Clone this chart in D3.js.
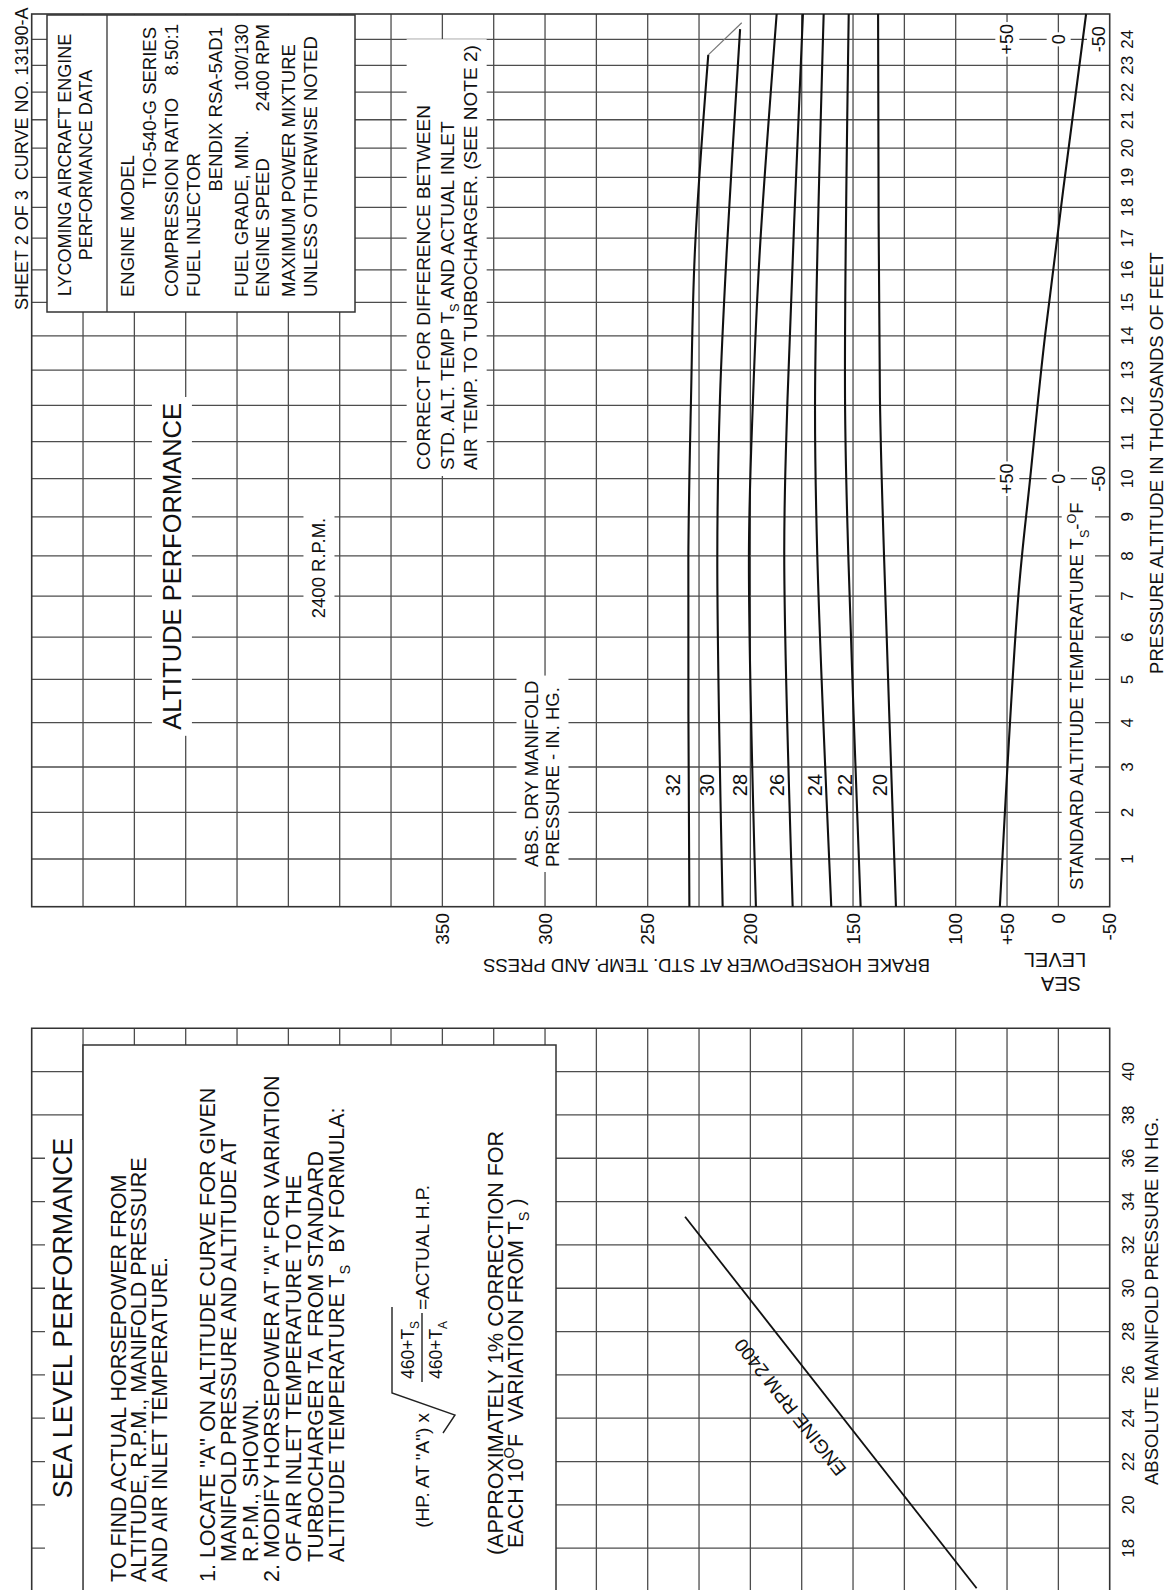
<!DOCTYPE html>
<html>
<head>
<meta charset="utf-8">
<title>Lycoming TIO-540-G Altitude Performance</title>
<script src="https://cdn.jsdelivr.net/npm/d3@7/dist/d3.min.js"></script>
<style>
  html, body { margin: 0; padding: 0; background: #ffffff; }
  svg { display: block; }
  text { font-family: "Liberation Sans", Arial, Helvetica, sans-serif; fill: #111; white-space: pre; }
</style>
</head>
<body>
<svg id="chart" width="1170" height="1590" viewBox="0 0 1170 1590"></svg>
<script>
// ===================== DATA =====================
const altitudeTicks = [1,2,3,4,5,6,7,8,9,10,11,12,13,14,15,16,17,18,19,20,21,22,23,24];
const hpTicks = [350, 300, 250, 200, 150, 100];
const hpTickLabels = ["350", "300", "250", "200", "150", "100"];
const tempTicks = [50, 0, -50];
const tempTickLabels = ["+50", "0", "-50"];
const tempLabelAltitudes = [24, 10];
const mpTicks = [18, 20, 22, 24, 26, 28, 30, 32, 34, 36, 38, 40];
const hpGrid = [525,500,475,450,425,400,375,350,325,300,275,250,225,200,175,150,125,100,75,50];

// Altitude performance curves: [altitude (1000 ft), brake horsepower]
const curveNames = ["32", "30", "28", "26", "24", "22", "20"];
const mp32 = [[0,229.7],[8,230.2],[12.2,228.9],[16.6,227.0],[23.4,220.5]];
const mp30 = [[0,213.5],[8,216.1],[12.2,214.8],[16.6,211.5],[24.4,205.0]];
const mp28 = [[0,197.3],[8,200.7],[12.2,198.7],[16.6,195.4],[25,187.2]];
const mp26 = [[0,179.4],[8,183.5],[12.2,181.9],[25,174.4]];
const mp24 = [[0,160.6],[8,167.4],[12.2,168.5],[25,164.3]];
const mp22 = [[0,146.3],[8,152.3],[12.2,153.9],[25,152.1]];
const mp20 = [[0,129.1],[8,134.9],[12.2,136.9],[25,137.8]];
const criticalAlt32 = [[23.4,220.5],[24.65,204.2]];
// Standard altitude temperature line: [altitude (1000 ft), deg F]
const standardTemp = [[0,57],[7,39],[10,27.5],[14,13],[25,-27]];
// Sea level performance, 2400 RPM: [manifold pressure in. Hg, brake horsepower]
const seaLevel2400 = [[33.3,231.8],[16.15,89.8]];

// ===================== SCALES =====================
const hpScale = d3.scaleLinear().domain([550, 25]).range([31.7, 1109.7]);
const altTransform = a => Math.pow(1 - 0.0068756 * a, 4.5);
const altPix = d3.scaleLinear().domain([altTransform(0), altTransform(25)]).range([906.7, 14]);
const altScale = a => altPix(altTransform(a));
const tempScale = d3.scaleLinear().domain([50, -50]).range([hpScale(75), hpScale(25)]);
const mpScale = d3.scaleLinear().domain([42, 16]).range([1028.3, 1591.5]);

const X0 = hpScale(550), X1 = hpScale(25);
const YT = altScale(25), YB = altScale(0);
const YS = mpScale(42);

const svg = d3.select('#chart');
svg.append('rect').attr('width', 1170).attr('height', 1590).attr('fill', '#fff');

// ===================== HELPERS =====================
function addSegs(t, segs, size) {
  if (!Array.isArray(segs)) segs = [segs];
  let shift = 0;
  segs.forEach(s => {
    if (typeof s === 'string') s = { t: s };
    const target = s.sub ? 0.3 * size : (s.sup ? -0.42 * size : 0);
    const ts = t.append('tspan').text(s.t);
    if (target !== shift) ts.attr('dy', (target - shift).toFixed(2));
    if (s.sub || s.sup) ts.attr('font-size', (size * 0.68).toFixed(1));
    shift = target;
  });
  return t;
}
function addBg(g, pad) {
  const b = g.node().getBBox();
  g.insert('rect', ':first-child')
    .attr('x', b.x - pad).attr('y', b.y - pad)
    .attr('width', b.width + 2 * pad).attr('height', b.height + 2 * pad)
    .attr('fill', '#fff');
}
// block of text rotated -90deg, lines given in screen coordinates
function vBlock(parent, lines, pad) {
  const g = parent.append('g').attr('transform', 'rotate(-90)');
  lines.forEach(L => {
    const t = g.append('text')
      .attr('x', -L.y).attr('y', L.x + 0.35 * L.size)
      .attr('font-size', L.size)
      .attr('text-anchor', L.anchor || 'start');
    addSegs(t, L.segs, L.size);
  });
  if (pad != null) addBg(g, pad);
  return g;
}
function label(parent, x, y, rot, segs, size, anchor, pad) {
  const g = parent.append('g').attr('transform', `translate(${x},${y}) rotate(${rot})`);
  const t = g.append('text').attr('x', 0).attr('y', 0.35 * size)
    .attr('font-size', size).attr('text-anchor', anchor || 'middle');
  addSegs(t, segs, size);
  if (pad != null) addBg(g, pad);
  return g;
}

// ===================== GRID =====================
const grid = svg.append('g').attr('stroke', '#4d4d4d').attr('stroke-width', 1.3).attr('fill', 'none');
// top panel (altitude performance)
grid.selectAll('line.vt').data(hpGrid).join('line').attr('class', 'vt')
  .attr('x1', d => hpScale(d)).attr('x2', d => hpScale(d)).attr('y1', YT).attr('y2', YB);
grid.selectAll('line.ht').data(altitudeTicks).join('line').attr('class', 'ht')
  .attr('x1', X0).attr('x2', X1).attr('y1', d => altScale(d)).attr('y2', d => altScale(d));
// bottom panel (sea level performance)
grid.selectAll('line.vb').data(hpGrid).join('line').attr('class', 'vb')
  .attr('x1', d => hpScale(d)).attr('x2', d => hpScale(d)).attr('y1', YS).attr('y2', 1590);
grid.selectAll('line.hb').data(mpTicks).join('line').attr('class', 'hb')
  .attr('x1', X0).attr('x2', X1).attr('y1', d => mpScale(d)).attr('y2', d => mpScale(d));

// ===================== BOXES & TEXT BLOCKS =====================
const txt = svg.append('g');

// Lycoming info box
txt.append('rect').attr('x', 47).attr('y', 15).attr('width', 308).attr('height', 297)
  .attr('fill', '#fff').attr('stroke', '#333').attr('stroke-width', 1.5);
txt.append('line').attr('x1', 107).attr('x2', 107).attr('y1', 15).attr('y2', 312)
  .attr('stroke', '#333').attr('stroke-width', 1.3);
vBlock(txt, [
  { x: 65, y: 165, segs: 'LYCOMING AIRCRAFT ENGINE', size: 18, anchor: 'middle' },
  { x: 86, y: 165, segs: 'PERFORMANCE DATA', size: 18, anchor: 'middle' },
  { x: 128, y: 297, segs: 'ENGINE MODEL', size: 18.5 },
  { x: 150, y: 27, segs: 'TIO-540-G SERIES', size: 18.5, anchor: 'end' },
  { x: 172, y: 297, segs: 'COMPRESSION RATIO', size: 18.5 },
  { x: 172, y: 24, segs: '8.50:1', size: 18.5, anchor: 'end' },
  { x: 194, y: 297, segs: 'FUEL INJECTOR', size: 18.5 },
  { x: 216, y: 27, segs: 'BENDIX RSA-5AD1', size: 18.5, anchor: 'end' },
  { x: 242, y: 297, segs: 'FUEL GRADE, MIN.', size: 18.5 },
  { x: 242, y: 24, segs: '100/130', size: 18.5, anchor: 'end' },
  { x: 263, y: 297, segs: 'ENGINE SPEED', size: 18.5 },
  { x: 263, y: 24, segs: '2400 RPM', size: 18.5, anchor: 'end' },
  { x: 289, y: 297, segs: 'MAXIMUM POWER MIXTURE', size: 18.5 },
  { x: 311, y: 297, segs: 'UNLESS OTHERWISE NOTED', size: 18.5 }
]);

// sheet identification
vBlock(txt, [{ x: 22, y: 310, segs: 'SHEET 2 OF 3  CURVE NO. 13190-A', size: 18 }]);

// titles and notes in altitude panel
vBlock(txt, [{ x: 172, y: 403, segs: 'ALTITUDE PERFORMANCE', size: 25.5, anchor: 'end' }], 6);
vBlock(txt, [{ x: 319, y: 568, segs: '2400 R.P.M.', size: 18.5, anchor: 'middle' }], 5);
vBlock(txt, [
  { x: 423, y: 470, segs: 'CORRECT FOR DIFFERENCE BETWEEN', size: 19 },
  { x: 447, y: 470, segs: ['STD. ALT. TEMP T', { t: 'S', sub: true }, ' AND ACTUAL INLET'], size: 19 },
  { x: 470, y: 470, segs: 'AIR TEMP. TO TURBOCHARGER. (SEE NOTE 2)', size: 19 }
], 6);
vBlock(txt, [
  { x: 532, y: 867, segs: 'ABS. DRY MANIFOLD', size: 18.5 },
  { x: 553, y: 867, segs: 'PRESSURE - IN. HG.', size: 18.5 }
], 5);
vBlock(txt, [{ x: 1077, y: 890, segs: ['STANDARD ALTITUDE TEMPERATURE T', { t: 'S', sub: true }, '-', { t: 'O', sup: true }, 'F'], size: 18.5 }], 3);

// temperature scale labels on altitude lines
tempLabelAltitudes.forEach(a => {
  tempTicks.forEach((t, i) => {
    const x = tempScale(t) - (t === -50 ? 11 : 0);
    label(txt, x, altScale(a), -90, tempTickLabels[i], 18, 'middle', 2);
  });
});

// sea level performance panel
txt.append('rect').attr('x', 45).attr('y', 1140).attr('width', hpScale(525) - 45).attr('height', 460).attr('fill', '#fff');
txt.append('rect').attr('x', hpScale(525)).attr('y', 1045).attr('width', 556 - hpScale(525)).attr('height', 600)
  .attr('fill', '#fff').attr('stroke', '#333').attr('stroke-width', 1.5);
vBlock(txt, [{ x: 63, y: 1318, segs: 'SEA LEVEL PERFORMANCE', size: 27, anchor: 'middle' }]);
vBlock(txt, [
  { x: 118, y: 1582, segs: 'TO FIND ACTUAL HORSEPOWER FROM', size: 21.5 },
  { x: 138.5, y: 1582, segs: 'ALTITUDE, R.P.M., MANIFOLD PRESSURE', size: 21.5 },
  { x: 159, y: 1582, segs: 'AND AIR INLET TEMPERATURE.', size: 21.5 },
  { x: 207, y: 1582, segs: '1. LOCATE "A" ON ALTITUDE CURVE FOR GIVEN', size: 21.5 },
  { x: 228.5, y: 1562, segs: 'MANIFOLD PRESSURE AND ALTITUDE AT', size: 21.5 },
  { x: 250, y: 1562, segs: 'R.P.M., SHOWN.', size: 21.5 },
  { x: 271.5, y: 1582, segs: '2. MODIFY HORSEPOWER AT "A" FOR VARIATION', size: 21.5 },
  { x: 293, y: 1562, segs: 'OF AIR INLET TEMPERATURE TO THE', size: 21.5 },
  { x: 315, y: 1562, segs: 'TURBOCHARGER TA  FROM STANDARD', size: 21.5 },
  { x: 336.5, y: 1562, segs: ['ALTITUDE TEMPERATURE T', { t: 'S', sub: true }, '  BY FORMULA:'], size: 21.5 },
  { x: 495, y: 1555, segs: '(APPROXIMATELY 1% CORRECTION FOR', size: 21.5 },
  { x: 515.5, y: 1548, segs: ['EACH 10', { t: 'O', sup: true }, 'F  VARIATION FROM T', { t: 'S', sub: true }, ' )'], size: 21.5 }
]);
// formula
(function () {
  const g = txt.append('g').attr('transform', 'translate(422,1413) rotate(-90)');
  const s = 19;
  addSegs(g.append('text').attr('x', 0).attr('y', 0.35 * s).attr('font-size', s).attr('text-anchor', 'end'), '(HP. AT "A") x', s);
  g.append('path').attr('d', 'M-20,21 L-2,33 L20,-30 L106,-30').attr('fill', 'none').attr('stroke', '#222').attr('stroke-width', 1.4);
  const fs = 17.5;
  addSegs(g.append('text').attr('x', 34).attr('y', -14 + 0.35 * fs).attr('font-size', fs), ['460+T', { t: 'S', sub: true }], fs);
  g.append('line').attr('x1', 31).attr('x2', 100).attr('y1', 0).attr('y2', 0).attr('stroke', '#222').attr('stroke-width', 1.4);
  addSegs(g.append('text').attr('x', 34).attr('y', 14 + 0.35 * fs).attr('font-size', fs), ['460+T', { t: 'A', sub: true }], fs);
  addSegs(g.append('text').attr('x', 103).attr('y', 0.35 * s).attr('font-size', s), '=ACTUAL H.P.', s);
})();

// ===================== FRAMES =====================
const frame = svg.append('g').attr('stroke', '#333').attr('stroke-width', 1.6).attr('fill', 'none');
frame.append('rect').attr('x', X0).attr('y', YT).attr('width', X1 - X0).attr('height', YB - YT);
frame.append('path').attr('d', `M${X0},1590 V${YS} H${X1} V1590`);

// ===================== CURVES =====================
const curveG = svg.append('g').attr('fill', 'none').attr('stroke', '#111').attr('stroke-width', 2.1);
const altLine = d3.line().x(d => hpScale(d[1])).y(d => altScale(d[0])).curve(d3.curveCatmullRom.alpha(0.5));
const curves = [mp32, mp30, mp28, mp26, mp24, mp22, mp20];
curves.forEach(c => curveG.append('path').attr('d', altLine(c)));
svg.append('path').attr('d', d3.line().x(d => hpScale(d[1])).y(d => altScale(d[0]))(criticalAlt32))
  .attr('fill', 'none').attr('stroke', '#777').attr('stroke-width', 1.2);
const tempLine = d3.line().x(d => tempScale(d[1])).y(d => altScale(d[0])).curve(d3.curveCatmullRom.alpha(0.5));
curveG.append('path').attr('d', tempLine(standardTemp));
const slLine = d3.line().x(d => hpScale(d[1])).y(d => mpScale(d[0]));
curveG.append('path').attr('d', slLine(seaLevel2400)).attr('stroke-width', 1.8);

// curve labels
curves.forEach((c, i) => {
  label(svg, hpScale(c[0][1]) - 16, altScale(2.6), -90, curveNames[i], 20, 'middle');
});

// ENGINE RPM 2400 label along the sea-level line
(function () {
  const p1 = [hpScale(seaLevel2400[1][1]), mpScale(seaLevel2400[1][0])];
  const p2 = [hpScale(seaLevel2400[0][1]), mpScale(seaLevel2400[0][0])];
  const ang = Math.atan2(p2[1] - p1[1], p2[0] - p1[0]) * 180 / Math.PI;
  const f = (mpScale(25.5) - p1[1]) / (p2[1] - p1[1]);
  const px = p1[0] + f * (p2[0] - p1[0]), py = p1[1] + f * (p2[1] - p1[1]);
  const g = svg.append('g').attr('transform', `translate(${px},${py}) rotate(${ang})`);
  g.append('text').attr('x', 0).attr('y', -35 + 0.35 * 19).attr('font-size', 19).attr('text-anchor', 'middle').text('ENGINE RPM 2400');
})();

// ===================== AXIS LABELS =====================
const ax = svg.append('g');
hpTicks.forEach((v, i) => label(ax, hpScale(v), 913, -90, hpTickLabels[i], 19, 'end'));
tempTicks.forEach((t, i) => label(ax, tempScale(t), 913, -90, tempTickLabels[i], 19, 'end'));
label(ax, 706.5, 965, 180, 'BRAKE HORSEPOWER AT STD. TEMP. AND PRESS', 18.5, 'middle');
label(ax, 1055, 960, 180, 'LEVEL', 20, 'middle');
label(ax, 1061, 984, 180, 'SEA', 20, 'middle');
altitudeTicks.forEach(a => label(ax, 1127, altScale(a), -90, String(a), 17, 'middle'));
label(ax, 1157, 463, -90, 'PRESSURE ALTITUDE IN THOUSANDS OF FEET', 18.5, 'middle');
mpTicks.forEach(m => label(ax, 1128.3, mpScale(m), -90, String(m), 17, 'middle'));
label(ax, 1152, 1301, -90, 'ABSOLUTE MANIFOLD PRESSURE IN HG.', 18.5, 'middle');
</script>
</body>
</html>
